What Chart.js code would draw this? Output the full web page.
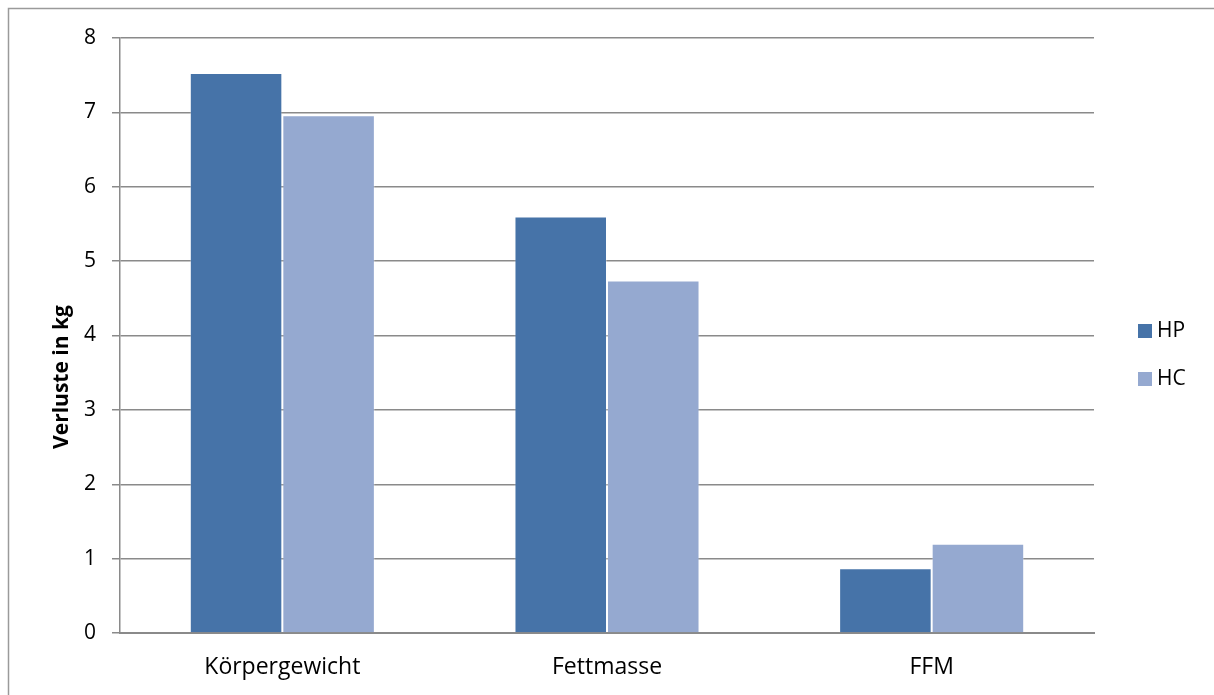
<!DOCTYPE html>
<html>
<head>
<meta charset="utf-8">
<script src="https://cdn.jsdelivr.net/npm/chart.js@4.4.1/dist/chart.umd.min.js"></script>
<style>
  html, body { margin: 0; padding: 0; background: #ffffff; overflow: hidden; }
  #wrap { position: relative; width: 1214px; height: 695px; }
  canvas { display: block; }
</style>
</head>
<body>
<div id="wrap"><canvas id="c" width="1214" height="695"></canvas></div>
<script>
// Gewichtsverluste je Gruppe (kg)
const categories = ['Körpergewicht', 'Fettmasse', 'FFM'];
const seriesNames = ['HP', 'HC'];
const hpValues = [7.53, 5.60, 0.87];
const hcValues = [6.96, 4.74, 1.20];
const yTicks = [0, 1, 2, 3, 4, 5, 6, 7, 8];
const yTitle = 'Verluste in kg';

const colors = ['#4673a8', '#95a9d0'];
const FONT = '"Open Sans", sans-serif';

// Rahmen um die Grafik
const framePlugin = {
  id: 'frame',
  beforeDraw(chart) {
    const ctx = chart.ctx;
    ctx.save();
    ctx.strokeStyle = '#9a9a9a';
    ctx.lineWidth = 1.5;
    ctx.beginPath();
    ctx.moveTo(8.5, 700);
    ctx.lineTo(8.5, 8.5);
    ctx.lineTo(1220, 8.5);
    ctx.stroke();
    ctx.restore();
  }
};

// Achsentitel und Legende
const textPlugin = {
  id: 'sideTexts',
  afterDraw(chart) {
    const ctx = chart.ctx;
    ctx.save();
    ctx.translate(62, 377);
    ctx.rotate(-Math.PI / 2);
    ctx.font = 'bold 21px ' + FONT;
    ctx.fillStyle = '#000000';
    ctx.textAlign = 'center';
    ctx.textBaseline = 'middle';
    ctx.fillText(yTitle, 0, 0);
    ctx.restore();

    ctx.save();
    ctx.font = '21px ' + FONT;
    ctx.textBaseline = 'middle';
    ctx.textAlign = 'left';
    chart.data.datasets.forEach((ds, i) => {
      const cy = 331 + i * 48;
      ctx.fillStyle = ds.backgroundColor;
      ctx.fillRect(1138, cy - 7, 14, 14);
      ctx.fillStyle = '#000000';
      ctx.fillText(ds.label, 1157, cy);
    });
    ctx.restore();
  }
};

new Chart(document.getElementById('c'), {
  type: 'bar',
  data: {
    labels: categories,
    datasets: [
      { label: seriesNames[0], data: hpValues, backgroundColor: colors[0] },
      { label: seriesNames[1], data: hcValues, backgroundColor: colors[1] }
    ]
  },
  options: {
    responsive: false,
    animation: false,
    devicePixelRatio: 1,
    datasets: { bar: { categoryPercentage: 0.57, barPercentage: 1.0, borderWidth: 1, borderColor: 'rgba(255,255,255,0.3)' } },
    layout: { padding: { left: 0, right: 120, top: 38, bottom: 0 } },
    plugins: { legend: { display: false }, tooltip: { enabled: false } },
    scales: {
      x: {
        grid: { display: false, drawTicks: false },
        border: { color: '#8a8a8a', width: 2 },
        ticks: { color: '#000000', font: { family: FONT, size: 23 }, padding: 21 },
        afterFit(scale) { scale.height = 62; }
      },
      y: {
        min: 0, max: 8,
        afterBuildTicks(scale) { scale.ticks = yTicks.map(v => ({ value: v })); },
        grid: { color: '#8a8a8a', lineWidth: 1.5, tickLength: 8, drawTicks: true },
        border: { color: '#8a8a8a', width: 1.5 },
        ticks: { color: '#000000', font: { family: FONT, size: 21 }, padding: 16 },
        afterFit(scale) { scale.width = 120; }
      }
    }
  },
  plugins: [framePlugin, textPlugin]
});
</script>
</body>
</html>
